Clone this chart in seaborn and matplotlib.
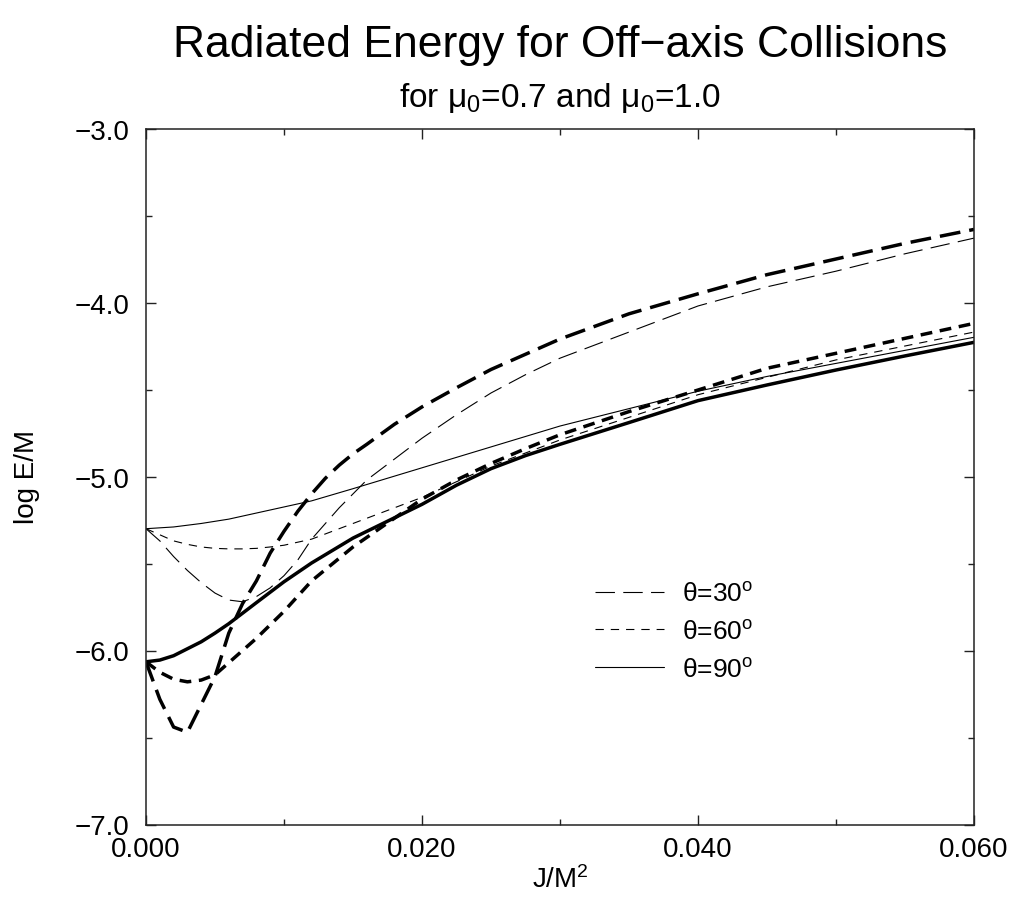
import matplotlib
matplotlib.use("Agg")
import matplotlib.pyplot as plt
import seaborn as sns
from matplotlib.ticker import FixedLocator, FixedFormatter

# ---------------- data ----------------
# thin curves (start at -5.30)
thin30_x = [0, .001, .002, .003, .004, .005, .006, .007, .008, .009, .010, .011, .012,
            .014, .016, .018, .020, .0225, .025, .0275, .030, .035, .040, .045, .050,
            .055, .060]
thin30_y = [-5.30, -5.37, -5.46, -5.54, -5.61, -5.67, -5.71, -5.72, -5.69, -5.64, -5.57,
            -5.48, -5.36, -5.18, -5.02, -4.90, -4.78, -4.645, -4.52, -4.415, -4.32,
            -4.17, -4.02, -3.91, -3.82, -3.72, -3.63]

thin60_x = [0, .001, .002, .003, .004, .005, .006, .007, .008, .009, .010, .012, .015,
            .020, .025, .030, .035, .040, .045, .050, .055, .060]
thin60_y = [-5.30, -5.335, -5.37, -5.39, -5.405, -5.413, -5.416, -5.416, -5.413, -5.405,
            -5.395, -5.36, -5.27, -5.12, -4.94, -4.79, -4.66, -4.53, -4.43, -4.33, -4.25,
            -4.17]

thin90_x = [0, .002, .004, .006, .008, .010, .012, .015, .020, .025, .030, .035, .040,
            .045, .050, .055, .060]
thin90_y = [-5.30, -5.29, -5.27, -5.245, -5.21, -5.175, -5.14, -5.07, -4.95, -4.83, -4.71,
            -4.61, -4.51, -4.425, -4.35, -4.275, -4.20]

# thick curves (start at -6.07)
thick30_x = [0, .001, .002, .003, .004, .005, .006, .007, .008, .009, .010, .011, .012,
             .013, .014, .015, .016, .018, .020, .0225, .025, .030, .035, .040, .045,
             .050, .055, .060]
thick30_y = [-6.065, -6.28, -6.44, -6.47, -6.31, -6.15, -5.90, -5.73, -5.60, -5.44,
             -5.315, -5.20, -5.10, -5.01, -4.935, -4.87, -4.815, -4.70, -4.60, -4.49,
             -4.385, -4.21, -4.065, -3.95, -3.84, -3.75, -3.66, -3.58]

thick60_x = [0, .001, .002, .003, .004, .005, .006, .008, .010, .012, .015, .020, .0225,
             .025, .0275, .030, .035, .040, .045, .050, .055, .060]
thick60_y = [-6.065, -6.125, -6.165, -6.18, -6.17, -6.14, -6.07, -5.93, -5.775, -5.60,
             -5.405, -5.13, -5.02, -4.925, -4.84, -4.76, -4.627, -4.503, -4.378, -4.292,
             -4.206, -4.12]

thick90_x = [0, .001, .002, .003, .004, .005, .006, .008, .010, .012, .015, .020, .0225,
             .025, .0275, .030, .035, .040, .045, .050, .055, .060]
thick90_y = [-6.065, -6.055, -6.03, -5.99, -5.95, -5.90, -5.846, -5.725, -5.605, -5.497,
             -5.354, -5.16, -5.05, -4.955, -4.88, -4.815, -4.69, -4.564, -4.474, -4.388,
             -4.307, -4.229]

legend_labels = [r"θ=30$^{o}$", r"θ=60$^{o}$", r"θ=90$^{o}$"]

x_major = [0.0, 0.02, 0.04, 0.06]
x_major_labels = ["0.000", "0.020", "0.040", "0.060"]
x_minor = [0.01, 0.03, 0.05]
y_major = [-7.0, -6.0, -5.0, -4.0, -3.0]
y_major_labels = ["−7.0", "−6.0", "−5.0", "−4.0", "−3.0"]
y_minor = [-6.5, -5.5, -4.5, -3.5]

title = "Radiated Energy for Off−axis Collisions"
subtitle = r"for μ$_0$=0.7 and μ$_0$=1.0"
xlabel = r"J/M$^2$"
ylabel = "log E/M"

# ---------------- style ----------------
sns.set_style("white")
plt.rcParams["font.family"] = ["Liberation Sans", "DejaVu Sans"]
plt.rcParams["mathtext.fontset"] = "custom"
plt.rcParams["mathtext.rm"] = "Liberation Sans"
plt.rcParams["mathtext.it"] = "Liberation Sans"
plt.rcParams["mathtext.bf"] = "Liberation Sans:bold"
plt.rcParams["lines.scale_dashes"] = False
for k in ["text.color", "axes.labelcolor", "xtick.color", "ytick.color"]:
    plt.rcParams[k] = "black"

fig = plt.figure(figsize=(10.14, 9.04), dpi=100)
W, H = 1014, 904
L, R, T, B = 146, 974, 129.5, 825.5
ax = fig.add_axes([L / W, 1 - B / H, (R - L) / W, (B - T) / H])

thin_lw, thick_lw = 0.8, 2.5
long_thin = (0, (14, 6))
short_thin = (0, (6, 5))
long_thick = (0, (15, 6.5))
short_thick = (0, (8.5, 5.5))

sns.lineplot(x=thick30_x, y=thick30_y, ax=ax, color="black", lw=thick_lw,
             linestyle=long_thick, errorbar=None)
sns.lineplot(x=thick60_x, y=thick60_y, ax=ax, color="black", lw=thick_lw,
             linestyle=short_thick, errorbar=None)
sns.lineplot(x=thick90_x, y=thick90_y, ax=ax, color="black", lw=thick_lw,
             linestyle="-", errorbar=None)
sns.lineplot(x=thin30_x, y=thin30_y, ax=ax, color="black", lw=thin_lw,
             linestyle=long_thin, errorbar=None)
sns.lineplot(x=thin60_x, y=thin60_y, ax=ax, color="black", lw=thin_lw,
             linestyle=short_thin, errorbar=None)
sns.lineplot(x=thin90_x, y=thin90_y, ax=ax, color="black", lw=thin_lw,
             linestyle="-", errorbar=None)

handles = ax.lines[3:6]
leg = ax.legend(handles, legend_labels, loc="upper left",
                bbox_to_anchor=((595 - L) / (R - L), (B - 583) / (B - T)),
                frameon=False, fontsize=19, handlelength=2.6, handletextpad=0.7,
                labelspacing=0.52, borderpad=0, borderaxespad=0)

ax.set_xlim(0, 0.06)
ax.set_ylim(-7, -3)
ax.xaxis.set_major_locator(FixedLocator(x_major))
ax.xaxis.set_major_formatter(FixedFormatter(x_major_labels))
ax.xaxis.set_minor_locator(FixedLocator(x_minor))
ax.yaxis.set_major_locator(FixedLocator(y_major))
ax.yaxis.set_major_formatter(FixedFormatter(y_major_labels))
ax.yaxis.set_minor_locator(FixedLocator(y_minor))

ax.tick_params(which="both", direction="in", top=True, right=True,
               bottom=True, left=True, color="#222222", width=1.0)
ax.tick_params(which="major", length=7.2, labelsize=20)
ax.tick_params(axis="x", which="major", pad=8)
ax.tick_params(axis="y", which="major", pad=12)
ax.tick_params(which="minor", length=4.3)
for s in ax.spines.values():
    s.set_visible(True)
    s.set_color("#222222")
    s.set_linewidth(1.1)

ax.set_xlabel(xlabel, fontsize=20)
ax.set_ylabel(ylabel, fontsize=20)
ax.xaxis.set_label_coords(0.5, (B - 866) / (B - T))
ax.yaxis.set_label_coords((40 - L) / (R - L), 0.5)

cx = (L + R) / 2 / W
fig.text(cx, 1 - 46 / H, title, ha="center", va="center", fontsize=32)
fig.text(cx, 1 - 98 / H, subtitle, ha="center", va="center", fontsize=24)

fig.savefig("out.png", dpi=100)
